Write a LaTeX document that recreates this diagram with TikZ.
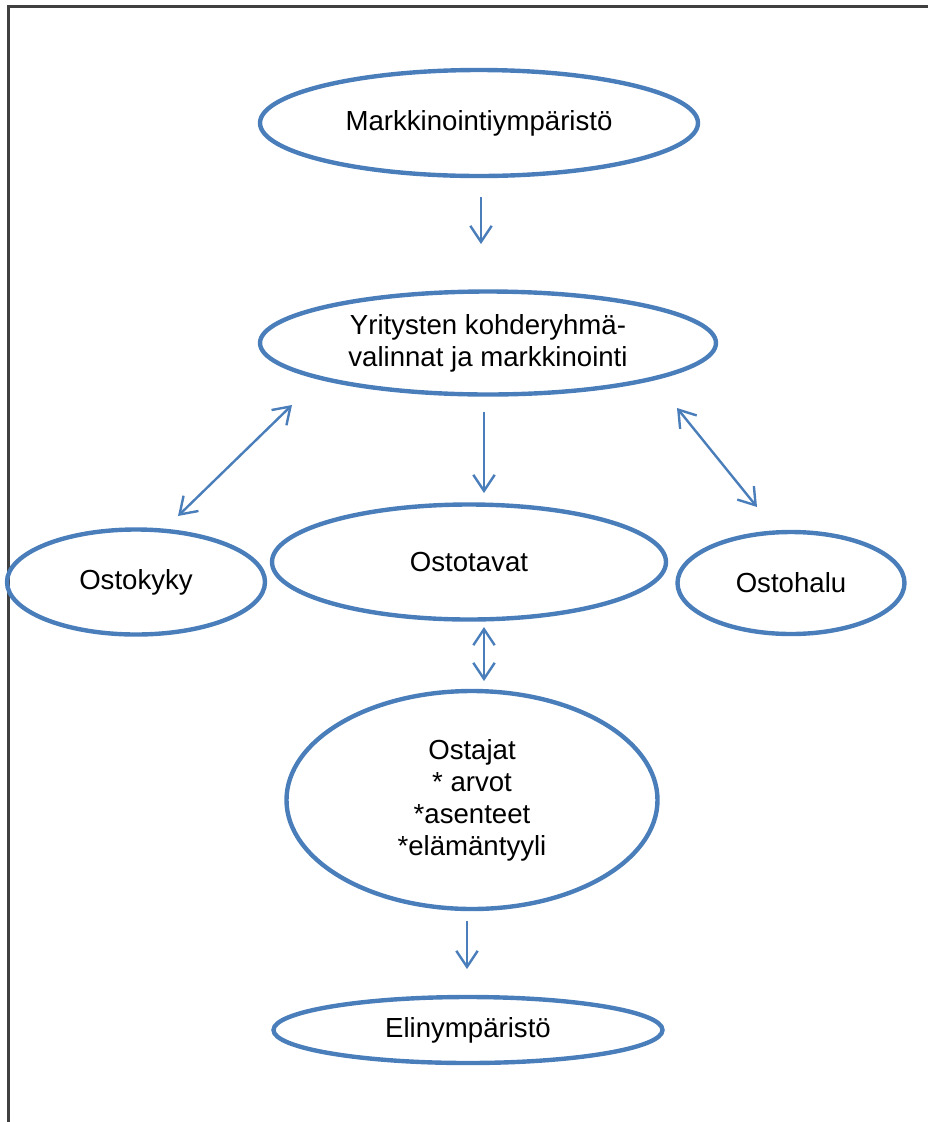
\documentclass[tikz,border=0pt]{standalone}
\usepackage{fontspec}
\setmainfont{Liberation Sans}
\usetikzlibrary{shapes.geometric,arrows.meta}
\definecolor{ovalblue}{HTML}{4A7EBB}
\definecolor{framegray}{HTML}{404040}

\begin{document}
\begin{tikzpicture}[x=0.75pt,y=-0.75pt,
    oval/.style={draw=ovalblue, line width=3.3pt, ellipse, inner sep=0pt, align=center,
                 font=\fontsize{20.7}{24}\selectfont},
    link/.style={draw=ovalblue, line width=1.8pt, -{Straight Barb[length=12pt,width=16pt]}},
    twolink/.style={link, {Straight Barb[length=12pt,width=16pt]}-{Straight Barb[length=12pt,width=16pt]}}]
            \useasboundingbox (0,0) rectangle (928,1122);
            % Frame
            \draw[framegray, line width=2.2pt] (8.5,1122) -- (8.5,6.5) -- (928,6.5);

            % Ovals
            \node[oval, minimum width=328.5pt, minimum height=79.5pt] (env) at (479,123) {Markkinointiympäristö};
            \node[oval, minimum width=342pt, minimum height=77.25pt] (firm) at (488,343) {Yritysten kohderyhmä-\\valinnat ja markkinointi};
            \node[oval, minimum width=193.5pt, minimum height=78.75pt] (ability) at (136,582) {Ostokyky};
            \node[oval, minimum width=295.5pt, minimum height=86.25pt] (habits) at (469,562) {Ostotavat};
            \node[oval, minimum width=170.25pt, minimum height=76.5pt] (desire) at (791,583) {Ostohalu};
            \node[oval, minimum width=278.25pt, minimum height=163.5pt] (buyers) at (472,800) {Ostajat\\* arvot\\*asenteet\\*elämäntyyli};
            \node[oval, minimum width=291.75pt, minimum height=49.5pt] (life) at (468,1030) {Elinympäristö};

            % Arrow ends
            \coordinate (e1) at (481,197);   \coordinate (f1) at (481,244);
            \coordinate (f2) at (484,412);   \coordinate (h2) at (484,493);
            \coordinate (f3) at (292,405);   \coordinate (a3) at (178,516);
            \coordinate (f4) at (677,408);   \coordinate (d4) at (757,507);
            \coordinate (h5) at (484,627);   \coordinate (b5) at (484,681);
            \coordinate (b6) at (467,921);   \coordinate (l6) at (467,969);

            % Links
            \draw[link] (e1) -- (f1);
            \draw[link] (f2) -- (h2);
            \draw[twolink] (f3) -- (a3);
            \draw[twolink] (f4) -- (d4);
            \draw[twolink] (h5) -- (b5);
            \draw[link] (b6) -- (l6);
\end{tikzpicture}
\end{document}
